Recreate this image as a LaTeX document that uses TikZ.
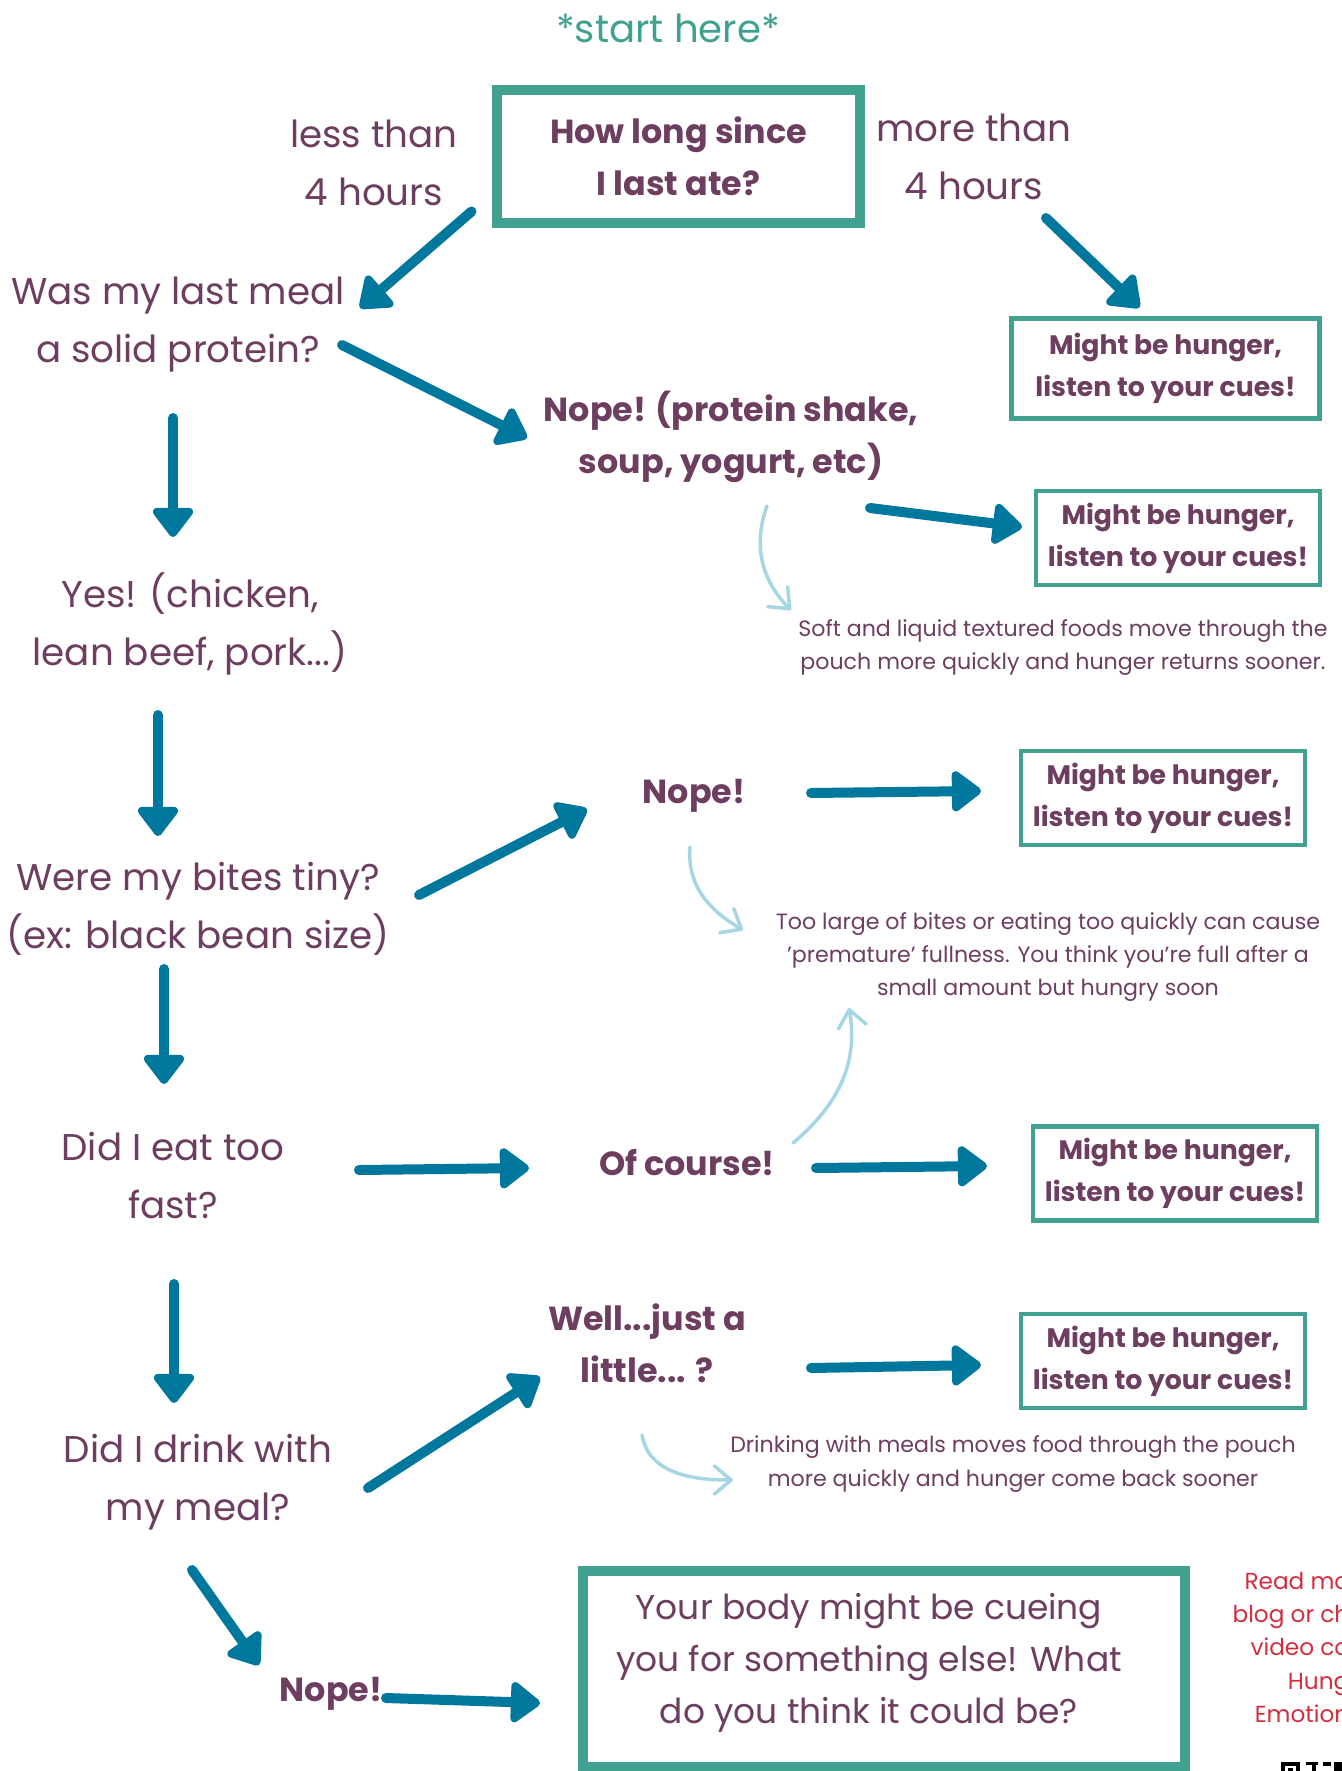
\documentclass[tikz,border=0pt]{standalone}
\usepackage{fontspec}
\setmainfont{Poppins}
\usetikzlibrary{arrows.meta}

\definecolor{plum}{HTML}{6D3E60}
\definecolor{boxteal}{HTML}{41A190}
\definecolor{flowblue}{HTML}{00789E}
\definecolor{hintblue}{HTML}{A6D6E4}
\definecolor{linkred}{HTML}{D42E3E}

\tikzset{
  ask/.style={text=plum, align=center, inner sep=0pt, font=\fontsize{10.6}{16.5}\selectfont},
  reply/.style={text=plum, align=center, inner sep=0pt, font=\fontsize{9.5}{14.8}\selectfont\bfseries},
  cue/.style={draw=boxteal, line width=0.45mm, text=plum, align=center,
    font=\fontsize{7.6}{11.9}\selectfont\bfseries, minimum width=27.1mm, minimum height=8.9mm},
  bigbox/.style={draw=boxteal, line width=1mm, text=plum, align=center},
  note/.style={text=plum, align=center, inner sep=0pt, font=\fontsize{6.3}{9.4}\selectfont},
  flow/.style={draw=flowblue, line width=1mm, line cap=round,
    -{Triangle[round, length=3.2mm, width=4.6mm]}},
  hint/.style={draw=hintblue, line width=0.35mm, line cap=round,
    -{Straight Barb[round, length=1.7mm, width=2.8mm]}},
}

\begin{document}
\begin{tikzpicture}[x=0.1mm, y=-0.1mm]
  \fill[white] (0,0) rectangle (1342,1771);
  \useasboundingbox (0,0) rectangle (1342,1771);
  \clip (0,0) rectangle (1342,1771);

  % top question
  \node[text=boxteal, font=\fontsize{11}{14}\selectfont] (start) at (668,28) {*start here*};
  \node[bigbox, minimum width=36.3mm, minimum height=13.3mm, font=\fontsize{9.5}{14.8}\selectfont\bfseries] (howlong) at (678.5,156.5) {How long since\\I last ate?};
  \node[ask] (less) at (374,163) {less than\\4 hours};
  \node[ask] (more) at (974,157) {more than\\4 hours};
  \node[cue, minimum width=30.8mm, minimum height=10mm] (hunger1) at (1165.5,368.5) {Might be hunger,\\listen to your cues!};

  % left column of questions
  \node[ask] (solid) at (178,325) {Was my last meal\\a solid protein?};
  \node[ask] (yes) at (190,624) {Yes! (chicken,\\lean beef, pork...)};
  \node[ask] (tiny) at (198,909) {Were my bites tiny?\\(ex: black bean size)};
  \node[ask] (fast) at (173,1175) {Did I eat too\\fast?};
  \node[ask] (drink) at (198,1482) {Did I drink with\\my meal?};

  % answers
  \node[reply] (shake) at (731,437) {Nope! (protein shake,\\soup, yogurt, etc)};
  \node[reply] (nope1) at (694,796) {Nope!};
  \node[reply] (course) at (687,1163) {Of course!};
  \node[reply] (little) at (647,1343) {Well...just a\\little... ?};
  \node[reply] (nope2) at (331,1694) {Nope!};

  % hunger boxes
  \node[cue] (hunger2) at (1178,538) {Might be hunger,\\listen to your cues!};
  \node[cue] (hunger3) at (1163,798) {Might be hunger,\\listen to your cues!};
  \node[cue] (hunger4) at (1175,1173.5) {Might be hunger,\\listen to your cues!};
  \node[cue] (hunger5) at (1163,1361) {Might be hunger,\\listen to your cues!};

  % notes
  \node[note] (note1) at (1063,648) {Soft and liquid textured foods move through the\\pouch more quickly and hunger returns sooner.};
  \node[note] (note2) at (1048,957) {Too large of bites or eating too quickly can cause\\'premature' fullness. You think you're full after a\\small amount but hungry soon};
  \node[note] (note3) at (1013,1464) {Drinking with meals moves food through the pouch\\more quickly and hunger come back sooner};

  % final box
  \node[bigbox, minimum width=60.2mm, minimum height=19.6mm] (else) at (884,1669) {};
  \node[text=plum, align=center, inner sep=0pt, font=\fontsize{9.8}{14.8}\selectfont] (elsetext) at (869,1663) {Your body might be cueing\\you for something else! What\\do you think it could be?};
  \node[text=linkred, align=right, anchor=north east, inner sep=0pt, font=\fontsize{6.6}{9.4}\selectfont] (readmore) at (1350,1572) {Read mo\\blog or ch\\video co\\Hung\\Emotion};
  \fill[black] (1281,1762) rectangle (1300,1771);
  \fill[white] (1285,1766) rectangle (1296,1771);
  \fill[black] (1288,1768) rectangle (1293,1771);
  \fill[black] (1306,1762) rectangle (1318,1765);
  \fill[black] (1312,1762) rectangle (1316,1771);
  \fill[black] (1323,1762) rectangle (1331,1766);
  \fill[black] (1334,1762) rectangle (1342,1771);

  % flow arrows
  \draw[flow] ([shift={(-207,55)}]howlong.center) -- ([shift={(182,-17)}]solid.center);
  \draw[flow] ([shift={(72,61)}]more.center) -- ([shift={(-26,-61)}]hunger1.center);
  \draw[flow] ([shift={(164,20)}]solid.center) -- ([shift={(-204,1)}]shake.center);
  \draw[flow] ([shift={(139,71)}]shake.center) -- ([shift={(-156,-11)}]hunger2.center);
  \draw[flow] ([shift={(-5,93)}]solid.center) -- ([shift={(-17,-87)}]yes.center);
  \draw[flow] ([shift={(-32,91)}]yes.center) -- ([shift={(-40,-73)}]tiny.center);
  \draw[flow] ([shift={(221,-14)}]tiny.center) -- ([shift={(-107,13)}]nope1.center);
  \draw[flow] ([shift={(117,-3)}]nope1.center) -- ([shift={(-182,-7)}]hunger3.center);
  \draw[flow] ([shift={(-34,60)}]tiny.center) -- ([shift={(-9,-91)}]fast.center);
  \draw[flow] ([shift={(186,-5)}]fast.center) -- ([shift={(-158,5)}]course.center);
  \draw[flow] ([shift={(129,5)}]course.center) -- ([shift={(-188,-7.5)}]hunger4.center);
  \draw[flow] ([shift={(1,109)}]fast.center) -- ([shift={(-24,-79)}]drink.center);
  \draw[flow] ([shift={(170,6)}]drink.center) -- ([shift={(-107,34)}]little.center);
  \draw[flow] ([shift={(164,25)}]little.center) -- ([shift={(-182,4)}]hunger5.center);
  \draw[flow] ([shift={(-6,88)}]drink.center) -- ([shift={(-72,-29)}]nope2.center);
  \draw[flow] ([shift={(55,4)}]nope2.center) -- ([shift={(-344,34)}]else.center);

  % hint arrows
  \draw[hint] ([shift={(36,69)}]shake.center) to[out=250, in=135] ([shift={(-272,-38)}]note1.center);
  \draw[hint] ([shift={(-4,51)}]nope1.center) to[out=265, in=150] ([shift={(-305,-27)}]note2.center);
  \draw[hint] ([shift={(106,-20)}]course.center) to[out=40, in=-80] ([shift={(-199,51)}]note2.center);
  \draw[hint] ([shift={(-5,92)}]little.center) to[out=-80, in=180] ([shift={(-280,16)}]note3.center);
\end{tikzpicture}
\end{document}
